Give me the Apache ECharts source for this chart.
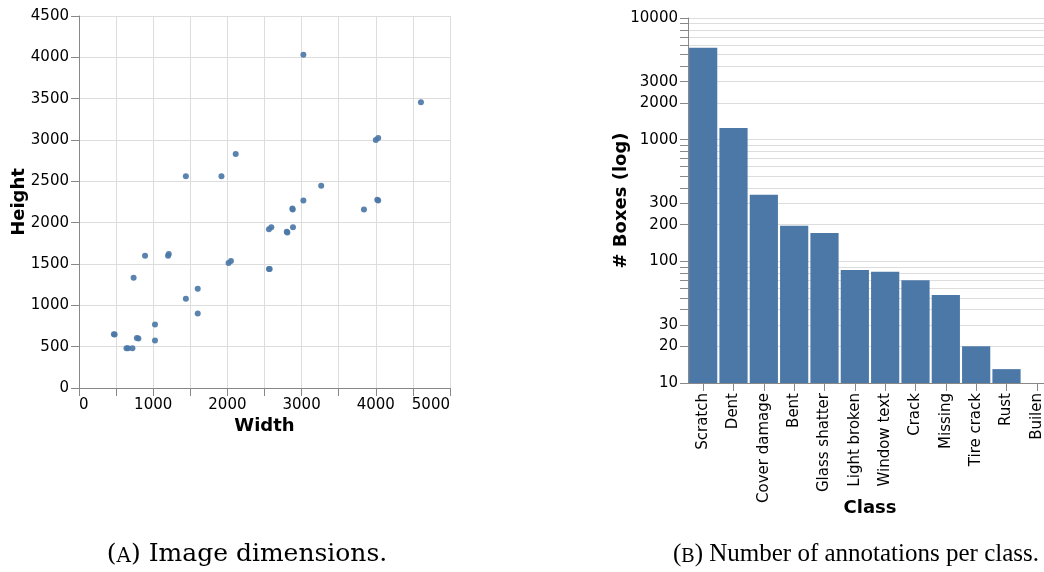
<!DOCTYPE html>
<html>
<head>
<meta charset="utf-8">
<script src="https://cdn.jsdelivr.net/npm/echarts@6/dist/echarts.min.js"></script>
<style>html,body{margin:0;padding:0;background:#fff}#c{width:1044px;height:572px}</style>
</head>
<body>
<div id="c"></div>
<script>
// ---- Panel A: image dimensions (width, height in px) ----
const imageWidths  = [3024, 4608, 4000, 4032, 2112, 1440, 1920, 3264, 3024, 4032, 4020, 2880, 2876, 3840, 2560, 2592, 2884, 2808, 2800, 2560, 2570, 2016, 2048, 1200, 1210, 890, 736, 1600, 1440, 1600, 1024, 1024, 470, 480, 640, 660, 720, 800, 780];
const imageHeights = [4032, 3456, 3000, 3024, 2832, 2560, 2560, 2448, 2268, 2268, 2276, 2160, 2170, 2160, 1920, 1944, 1944, 1880, 1890, 1440, 1440, 1512, 1536, 1600, 1620, 1600, 1334, 1200, 1080, 900, 768, 576, 650, 648, 480, 480, 480, 600, 604];

// ---- Panel B: number of boxes per class ----
const classes = ['Scratch', 'Dent', 'Cover damage', 'Bent', 'Glass shatter', 'Light broken', 'Window text', 'Crack', 'Missing', 'Tire crack', 'Rust', 'Builen'];
const boxCounts = [5700, 1250, 352, 196, 171, 85, 82, 70, 53, 20, 13, 10];

// ---- Log axis ticks / labels for panel B ----
const logTickValues = [10, 20, 30, 40, 50, 60, 70, 80, 90, 100, 200, 300, 400, 500, 600, 700, 800, 900, 1000, 2000, 3000, 4000, 5000, 6000, 7000, 8000, 9000, 10000];
const logTickLabels = [10, 20, 30, 100, 200, 300, 1000, 2000, 3000, 10000];

// ---- Captions ----
const captionLetters = ['A', 'B'];
const captions = ['Image dimensions.', 'Number of annotations per class.'];

const FONT = 'DejaVu Sans';
const AXIS = '#888';
const GRID = '#ddd';
const BLUE = '#4c78a8';
const labelStyle = {fontFamily: FONT, fontSize: 15, color: '#000'};
const nameStyle = {fontFamily: FONT, fontSize: 18, fontWeight: 'bold', color: '#000'};

const chart = echarts.init(document.getElementById('c'), null, {renderer: 'canvas'});
const option = {
  animation: false,
  backgroundColor: '#fff',
  grid: [
    {left: 79, top: 16, width: 371, height: 372, outerBoundsMode: 'none', containLabel: false},
    {left: 688, top: 18, width: 364, height: 365, outerBoundsMode: 'none', containLabel: false}
  ],
  xAxis: [
    {
      gridIndex: 0, type: 'value', min: 0, max: 5000, interval: 500,
      name: 'Width', nameLocation: 'middle', nameGap: 29, nameMoveOverlap: false, nameTextStyle: nameStyle,
      axisLine: {show: true, onZero: false, lineStyle: {color: AXIS}},
      axisTick: {show: true, length: 8, lineStyle: {color: AXIS}},
      axisLabel: Object.assign({margin: 10, alignMinLabel: 'left', alignMaxLabel: 'right', showMinLabel: true, showMaxLabel: true,
        formatter: v => (v % 1000 === 0 ? String(v) : '')}, labelStyle),
      splitLine: {show: true, lineStyle: {color: GRID}}
    },
    {
      gridIndex: 1, type: 'category', data: classes, boundaryGap: true,
      name: 'Class', nameLocation: 'middle', nameGap: 116, nameMoveOverlap: false, nameTextStyle: nameStyle,
      axisLine: {show: true, onZero: false, lineStyle: {color: AXIS}},
      axisTick: {show: true, alignWithLabel: true, length: 8, lineStyle: {color: AXIS}},
      axisLabel: Object.assign({rotate: 90, interval: 0, margin: 10}, labelStyle),
      splitLine: {show: false}
    }
  ],
  yAxis: [
    {
      gridIndex: 0, type: 'value', min: 0, max: 4500, interval: 500,
      name: 'Height', nameLocation: 'middle', nameGap: 51, nameMoveOverlap: false, nameTextStyle: nameStyle,
      axisLine: {show: true, onZero: false, lineStyle: {color: AXIS}},
      axisTick: {show: true, length: 8, lineStyle: {color: AXIS}},
      axisLabel: Object.assign({margin: 10, formatter: v => String(v)}, labelStyle),
      splitLine: {show: true, lineStyle: {color: GRID}}
    },
    {
      gridIndex: 1, type: 'log', logBase: 10, min: 10, max: 10000, show: false
    },
    {
      gridIndex: 1, type: 'value', min: 1, max: 4, position: 'left',
      name: '# Boxes (log)', nameLocation: 'middle', nameGap: 58, nameMoveOverlap: false, nameTextStyle: nameStyle,
      axisLine: {show: true, onZero: false, lineStyle: {color: AXIS}},
      axisTick: {show: true, length: 8, lineStyle: {color: AXIS}, customValues: logTickValues.map(v => Math.log10(v))},
      axisLabel: Object.assign({margin: 10, customValues: logTickLabels.map(v => Math.log10(v)),
        formatter: v => String(Math.round(Math.pow(10, v)))}, labelStyle),
      splitLine: {show: true, lineStyle: {color: GRID}}
    }
  ],
  series: [
    {
      type: 'scatter', xAxisIndex: 0, yAxisIndex: 0,
      data: imageWidths.map((w, i) => [w, imageHeights[i]]),
      symbol: 'circle', symbolSize: 6,
      itemStyle: {color: BLUE, opacity: 0.92}
    },
    {
      type: 'bar', xAxisIndex: 1, yAxisIndex: 1,
      data: boxCounts, barCategoryGap: '7%', clip: true,
      itemStyle: {color: BLUE}
    }
  ],
  graphic: [
    {
      type: 'text', x: 247, y: 554,
      style: {
        text: '({sc|' + captionLetters[0] + '}) ' + captions[0],
        fontFamily: 'DejaVu Serif', fontSize: 25, fill: '#000', align: 'center', verticalAlign: 'middle',
        rich: {sc: {fontFamily: 'DejaVu Serif', fontSize: 20, fill: '#000', verticalAlign: 'bottom'}}
      }
    },
    {
      type: 'text', x: 856, y: 554,
      style: {
        text: '({sc|' + captionLetters[1] + '}) ' + captions[1],
        fontFamily: 'Liberation Serif', fontSize: 25, fill: '#000', align: 'center', verticalAlign: 'middle',
        rich: {sc: {fontFamily: 'Liberation Serif', fontSize: 20, fill: '#000', verticalAlign: 'bottom'}}
      }
    }
  ]
};
chart.setOption(option);
</script>
</body>
</html>
